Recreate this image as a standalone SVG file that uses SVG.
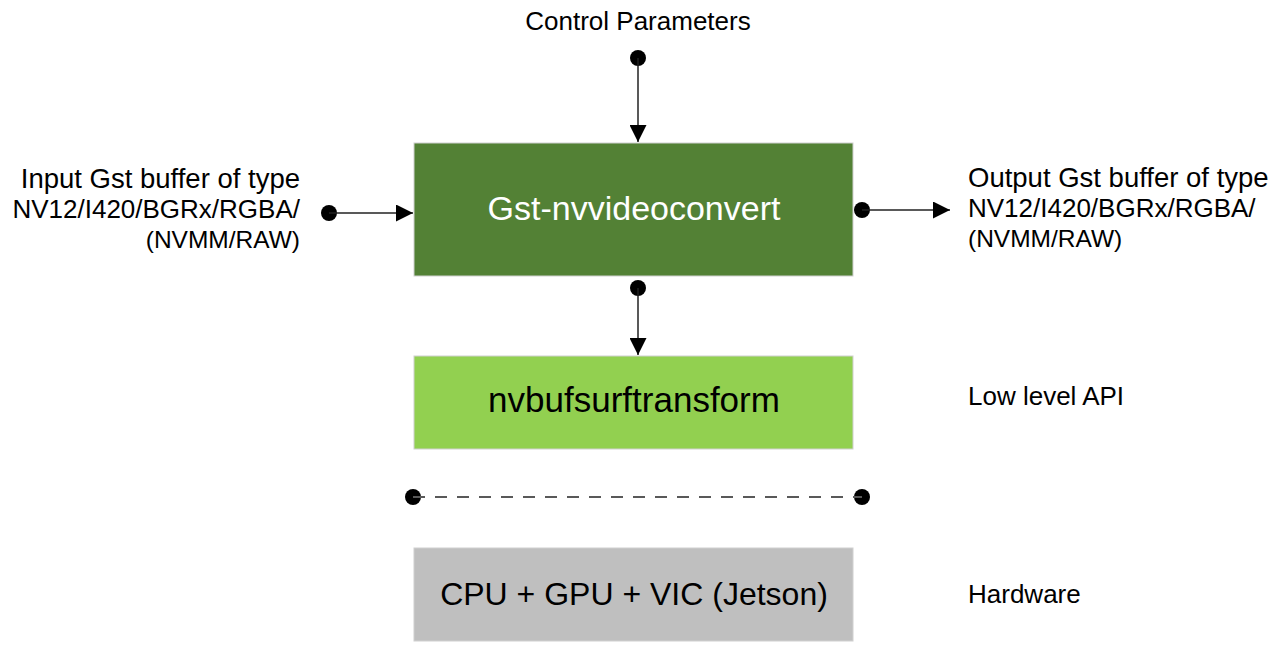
<svg xmlns="http://www.w3.org/2000/svg" width="1278" height="645" viewBox="0 0 1278 645">
<defs>
<style>
.t{font-family:"Liberation Sans",Arial,sans-serif;font-size:26px;fill:#000}
.t2{font-size:27.5px}
.t3{font-size:24.5px}
.b{font-family:"Liberation Sans",Arial,sans-serif;font-size:34px;text-anchor:middle}
.ln{stroke:#222;stroke-width:1.5;fill:none}
.dot{fill:#000}
</style>
<marker id="ahb" viewBox="0 0 16 16" refX="16" refY="8" markerWidth="17" markerHeight="17" markerUnits="userSpaceOnUse" orient="auto">
<path d="M0,0 L16,8 L0,16 z" fill="#000"/>
</marker>
</defs>
<rect width="1278" height="645" fill="#fff"/>
<g id="control-label"><text class="t" x="638" y="30" text-anchor="middle">Control Parameters</text></g>
<g id="input-label"><text class="t" text-anchor="end"><tspan x="300" y="188" class="t2">Input Gst buffer of type</tspan><tspan x="300" y="218">NV12/I420/BGRx/RGBA/</tspan><tspan x="300" y="248" class="t3">(NVMM/RAW)</tspan></text></g>
<g id="output-label"><text class="t"><tspan x="968" y="187" class="t2">Output Gst buffer of type</tspan><tspan x="968" y="217">NV12/I420/BGRx/RGBA/</tspan><tspan x="968" y="247" class="t3">(NVMM/RAW)</tspan></text></g>
<g id="gst-nvvideoconvert"><rect x="414" y="143" width="439" height="133" fill="#538135" stroke="#d0d0d0" stroke-width="1"/><text class="b" x="634" y="220" fill="#fff">Gst-nvvideoconvert</text></g>
<g id="nvbufsurftransform"><rect x="414" y="356" width="439" height="93" fill="#92d050" stroke="#d0d0d0" stroke-width="1"/><text class="b" x="634" y="412" fill="#000" style="font-size:35px">nvbufsurftransform</text></g>
<g id="hardware"><rect x="414" y="548" width="439" height="93" fill="#bfbfbf" stroke="#d0d0d0" stroke-width="1"/><text class="b" x="634" y="605" fill="#000" style="font-size:32px">CPU + GPU + VIC (Jetson)</text></g>
<g id="low-level-label"><text class="t" x="968" y="405">Low level API</text></g>
<g id="hardware-label"><text class="t" x="968" y="603">Hardware</text></g>
<g id="connectors">
<circle class="dot" cx="638" cy="58" r="8"/>
<line class="ln" x1="638" y1="58" x2="638" y2="142" marker-end="url(#ahb)"/>
<circle class="dot" cx="329" cy="213" r="8"/>
<line class="ln" x1="329" y1="213" x2="413" y2="213" marker-end="url(#ahb)"/>
<circle class="dot" cx="862" cy="210" r="8"/>
<line class="ln" x1="862" y1="210" x2="950" y2="210" marker-end="url(#ahb)"/>
<circle class="dot" cx="638" cy="288" r="8"/>
<line class="ln" x1="638" y1="288" x2="638" y2="355" marker-end="url(#ahb)"/>
<circle class="dot" cx="413" cy="497" r="8"/>
<circle class="dot" cx="862" cy="497" r="8"/>
<line x1="413" y1="497" x2="862" y2="497" stroke="#595959" stroke-width="2" stroke-dasharray="12,10"/>
</g>
</svg>
